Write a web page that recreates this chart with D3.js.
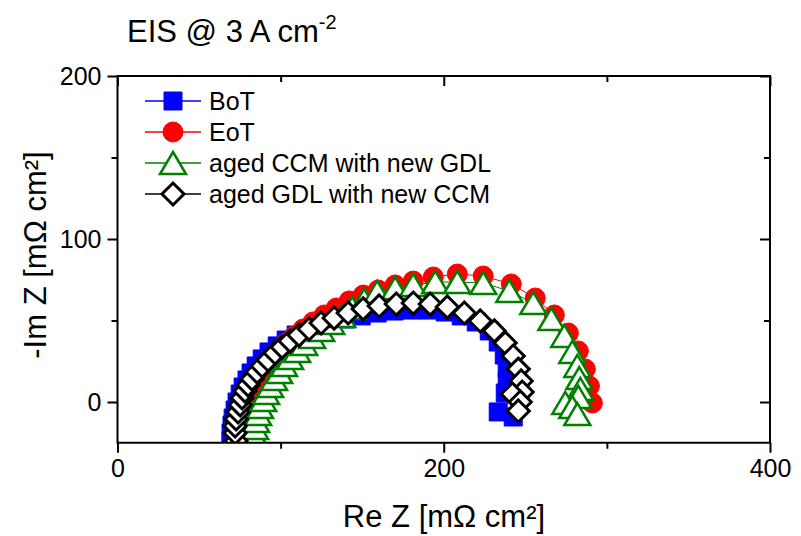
<!DOCTYPE html>
<html>
<head>
<meta charset="utf-8">
<script src="https://cdn.jsdelivr.net/npm/d3@7"></script>
<style>
  body { margin: 0; background: #fff; }
  svg { display: block; }
  text { font-family: Arial, "Liberation Sans", sans-serif; fill: #000; }
</style>
</head>
<body>
<svg id="chart" width="801" height="536"></svg>
<script>
// Nyquist spectra, Re Z / -Im Z in mΩ cm²
const seriesNames = ["BoT", "EoT", "aged CCM with new GDL", "aged GDL with new CCM"];

const botRe = [69.6,69.6,70.2,70.9,72.1,73.3,75.2,77.0,79.4,81.9,85.0,88.7,92.9,97.9,103.4,109.5,116.3,123.6,131.6,140.2,149.4,159.2,169.6,180.1,190.5,200.9,210.7,219.9,227.9,233.4,237.1,238.9,238.9,237.7,233.4,242.6];
const botIm = [-23.9,-19.0,-14.1,-9.8,-4.9,0,4.9,9.2,13.5,17.8,22.1,26.4,30.7,34.4,38.0,41.1,44.2,46.6,49.1,50.9,52.8,54.6,55.8,56.4,56.4,55.2,52.8,49.1,43.6,36.8,28.8,20.9,12.9,5.5,-6.1,-9.2];

const eotRe = [75.2,75.2,75.8,76.4,77.6,78.8,80.7,82.5,85.0,88.0,91.1,94.8,99.1,103.4,108.3,113.8,119.9,126.7,134.1,142.0,150.6,159.8,170.2,181.3,193.6,208.3,224.2,241.4,256.1,267.8,276.4,282.5,286.8,289.3,291.1];
const eotIm = [-23.3,-18.4,-13.5,-8.6,-3.7,1.2,6.1,10.4,14.7,19.0,23.3,27.6,31.9,36.2,40.5,44.8,49.1,53.4,57.7,62.0,65.6,68.7,71.8,74.2,76.7,78.5,77.3,72.4,63.8,53.4,42.3,31.3,20.2,9.8,-0.6];

const agedCcmRe = [83.7,83.7,84.4,85.0,86.2,87.4,89.3,91.1,93.6,96.0,99.1,102.1,105.8,110.1,114.4,119.3,124.8,131.0,137.7,143.9,151.2,159.2,170.2,181.3,194.8,208.3,224.2,240.2,254.9,266.0,273.9,278.8,281.9,283.1,283.7,282.5,274.5,278.8,281.9];
const agedCcmIm = [-24.5,-20.2,-16.0,-11.7,-7.4,-3.1,1.2,5.5,9.8,14.1,18.4,22.7,27.0,31.3,35.6,39.9,44.2,48.5,52.8,57.7,62.6,67.5,69.9,71.8,73.6,73.6,73.0,68.1,60.7,50.9,40.5,30.7,22.1,14.7,8.0,3.1,-0.6,-3.1,-7.4];

const agedGdlRe = [72.7,72.1,72.1,72.7,73.9,75.2,76.4,78.2,80.1,82.5,85.6,88.7,92.3,96.6,100.9,105.8,111.3,117.5,124.8,132.8,141.4,150.6,160.4,170.9,181.3,191.7,202.2,212.6,222.4,231.0,237.7,242.6,245.7,247.5,248.1,242.0,246.9,245.7];
const agedGdlIm = [-23.9,-19.0,-14.7,-10.4,-6.1,-1.8,2.5,6.7,10.4,14.1,18.4,22.1,25.8,30.1,33.7,37.4,41.1,44.8,48.5,51.5,54.6,57.1,58.9,60.1,60.7,60.1,58.3,54.6,49.7,43.6,36.2,28.2,20.2,12.9,6.1,4.9,0,-5.5];

const xMajorTicks = [0, 200, 400];
const xMinorTicks = [100, 300];
const yMajorTicks = [0, 100, 200];
const yMinorTicks = [50, 150];

(function draw() {
  const svg = d3.select("#chart");
  const plotLeft = 117.5, plotRight = 770, plotTop = 76, plotBottom = 442.75;

  const x = d3.scaleLinear().domain([0, 400]).range([plotLeft, plotRight]);
  const y = d3.scaleLinear().domain([-25, 200]).range([plotBottom, plotTop]);

  // marker path builders, centred on (0,0)
  const markerPath = {
    square: () => "M-9,-9H9V9H-9Z",
    circle: () => d3.symbol(d3.symbolCircle, Math.PI * 10 * 10)(),
    triangle: () => "M0,-11L13,11L-13,11Z",
    diamond: () => "M0,-11L11,0L0,11L-11,0Z"
  };

  const series = [
    { name: seriesNames[0], re: botRe, im: botIm, shape: "square", color: "#0000ff", fill: "#0000ff", sw: 1 },
    { name: seriesNames[1], re: eotRe, im: eotIm, shape: "circle", color: "#ff0000", fill: "#ff0000", sw: 1 },
    { name: seriesNames[2], re: agedCcmRe, im: agedCcmIm, shape: "triangle", color: "#008000", fill: "#ffffff", sw: 2.5 },
    { name: seriesNames[3], re: agedGdlRe, im: agedGdlIm, shape: "diamond", color: "#000000", fill: "#ffffff", sw: 3 }
  ];

  svg.append("defs").append("clipPath").attr("id", "plotClip")
    .append("rect").attr("x", plotLeft).attr("y", plotTop)
    .attr("width", plotRight - plotLeft).attr("height", plotBottom - plotTop);

  const plot = svg.append("g").attr("clip-path", "url(#plotClip)");
  const line = d3.line().x(d => x(d[0])).y(d => y(d[1]));

  series.forEach(s => {
    const pts = s.re.map((v, i) => [v, s.im[i]]);
    const g = plot.append("g");
    g.append("path").datum(pts)
      .attr("d", line)
      .attr("fill", "none")
      .attr("stroke", s.color)
      .attr("stroke-width", 1);
    g.selectAll("path.pt").data(pts).join("path")
      .attr("class", "pt")
      .attr("d", markerPath[s.shape]())
      .attr("transform", d => `translate(${x(d[0])},${y(d[1])})`)
      .attr("fill", s.fill)
      .attr("stroke", s.color)
      .attr("stroke-width", s.sw)
      .attr("stroke-linejoin", "miter");
  });

  // axes: outward ticks on left/bottom, inward mirrors on top/right
  const axisStyle = g => {
    g.select(".domain").remove();
    g.selectAll(".tick line").attr("stroke", "#000").attr("stroke-width", 2);
  };
  const labelStyle = g => g.selectAll("text")
    .attr("font-size", 25).attr("font-family", "Arial, 'Liberation Sans', sans-serif").attr("fill", "#000");

  svg.append("g").attr("transform", `translate(0,${plotBottom})`)
    .call(d3.axisBottom(x).tickValues(xMajorTicks).tickSize(10).tickPadding(6).tickFormat(d3.format("d")))
    .call(axisStyle).call(labelStyle);
  svg.append("g").attr("transform", `translate(0,${plotBottom})`)
    .call(d3.axisBottom(x).tickValues(xMinorTicks).tickSize(6).tickFormat(""))
    .call(axisStyle);

  svg.append("g").attr("transform", `translate(${plotLeft},0)`)
    .call(d3.axisLeft(y).tickValues(yMajorTicks).tickSize(10).tickPadding(6).tickFormat(d3.format("d")))
    .call(axisStyle).call(labelStyle);
  svg.append("g").attr("transform", `translate(${plotLeft},0)`)
    .call(d3.axisLeft(y).tickValues(yMinorTicks).tickSize(6).tickFormat(""))
    .call(axisStyle);

  svg.append("g").attr("transform", `translate(0,${plotTop})`)
    .call(d3.axisTop(x).tickValues(xMajorTicks).tickSize(-10).tickFormat(""))
    .call(axisStyle);
  svg.append("g").attr("transform", `translate(0,${plotTop})`)
    .call(d3.axisTop(x).tickValues(xMinorTicks).tickSize(-6).tickFormat(""))
    .call(axisStyle);
  svg.append("g").attr("transform", `translate(${plotRight},0)`)
    .call(d3.axisRight(y).tickValues(yMajorTicks).tickSize(-10).tickFormat(""))
    .call(axisStyle);
  svg.append("g").attr("transform", `translate(${plotRight},0)`)
    .call(d3.axisRight(y).tickValues(yMinorTicks).tickSize(-6).tickFormat(""))
    .call(axisStyle);

  // frame
  svg.append("rect")
    .attr("x", plotLeft).attr("y", plotTop)
    .attr("width", plotRight - plotLeft).attr("height", plotBottom - plotTop)
    .attr("fill", "none").attr("stroke", "#000").attr("stroke-width", 2);

  // axis titles
  svg.append("text")
    .attr("x", 444).attr("y", 527)
    .attr("text-anchor", "middle").attr("font-size", 31)
    .text("Re Z [mΩ cm²]");

  svg.append("text")
    .attr("transform", `translate(46,255) rotate(-90)`)
    .attr("text-anchor", "middle").attr("font-size", 31)
    .text("-Im Z [mΩ cm²]");

  // title
  const title = svg.append("text").attr("x", 127).attr("y", 42).attr("font-size", 31);
  title.append("tspan").text("EIS @ 3 A cm");
  title.append("tspan").attr("dy", -13).attr("font-size", 20).text("-2");

  // legend
  const legend = svg.append("g");
  const legendRowY = [101, 132, 163, 194];
  series.forEach((s, i) => {
    const ly = legendRowY[i];
    legend.append("line")
      .attr("x1", 145).attr("x2", 201).attr("y1", ly).attr("y2", ly)
      .attr("stroke", s.color).attr("stroke-width", 1.5);
    legend.append("path")
      .attr("d", markerPath[s.shape]())
      .attr("transform", `translate(173,${ly})`)
      .attr("fill", s.fill).attr("stroke", s.color).attr("stroke-width", s.sw);
    legend.append("text")
      .attr("x", 209).attr("y", ly + 9)
      .attr("font-size", 25)
      .text(s.name);
  });
})();
</script>
</body>
</html>
